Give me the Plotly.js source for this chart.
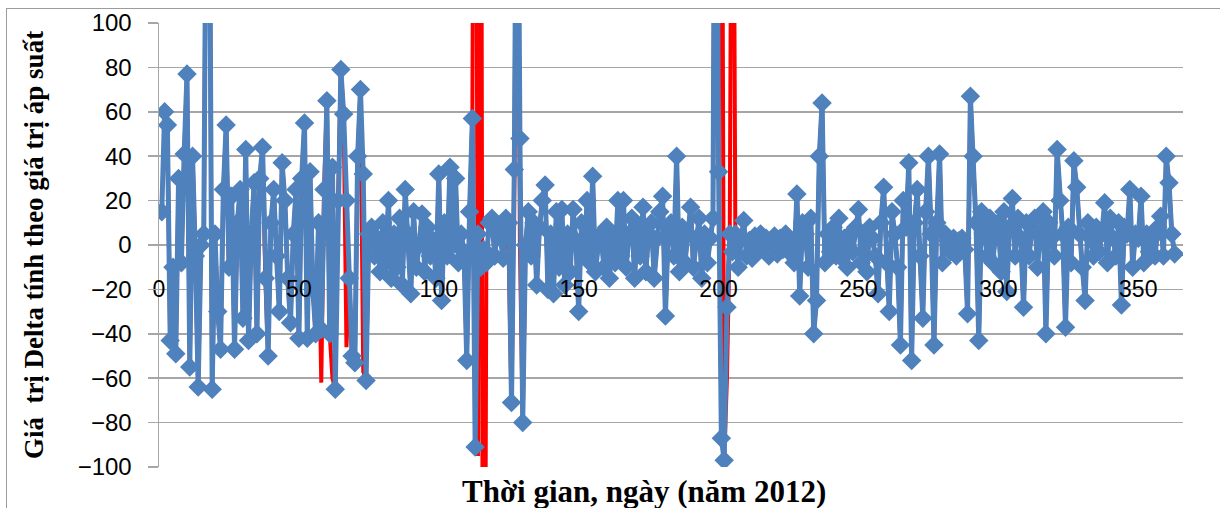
<!DOCTYPE html>
<html>
<head>
<meta charset="utf-8">
<script src="https://cdn.plot.ly/plotly-3.0.1.min.js"></script>
<style>
  html, body { margin: 0; padding: 0; background: #ffffff; }
  #wrap { position: relative; width: 1220px; height: 508px; overflow: hidden; }
  #frame { position: absolute; left: 6px; top: 8px; width: 1400px; height: 700px;
           border-top: 1.5px solid #9c9c9c; border-left: 1.5px solid #9c9c9c; }
  #chart { position: absolute; left: 0; top: 0; width: 1220px; height: 508px; }
</style>
</head>
<body>
<div id="wrap">
  <div id="frame"></div>
  <div id="chart"></div>
</div>
<script>
// Daily Delta values (blue series), day 1 .. day 363
const deltaFiltered = [
  15, 60, 54, -43, -10, -49, 30, -8, 41, 77,
  -55, 40, -5, -64, 0, 5, 200, 180, -65, 5,
  -30, -47, 25, 54, -10, 22, -47, 10, 25, -33,
  43, -43, 5, 28, -40, 30, 44, -15, -50, 10,
  25, -5, -30, 37, 20, -15, -35, 5, 25, -42,
  30, 55, -42, 33, -20, -40, 10, -38, 25, 65,
  -40, 35, -65, 20, 79, 59, 20, -15, -50, -53,
  40, 70, 32, -61, 5, 8, -5, 3, -12, 10,
  -8, 20, -15, 5, -10, 12, -18, 25, 5, -22,
  15, -10, 0, 14, -12, 8, -5, 2, -15, 32,
  -25, 10, -5, 35, 0, 30, -8, 5, -3, -52,
  15, 57, -91, 5, -10, -2, -8, 10, 12, -5,
  8, 3, -6, 12, 10, -71, 34, 250, 48, -80,
  0, 15, -5, 10, -18, 8, 20, 27, -20, 5,
  -22, 15, -10, 16, -18, 5, -12, 16, 2, -30,
  10, -5, 20, -8, 31, -12, 0, 5, -10, 8,
  -15, 3, -8, 20, -5, 20, -10, 5, 12, -15,
  8, -5, 17, -12, 5, 10, -15, 3, 15, 22,
  -32, 5, 10, -5, 40, -12, 8, -8, 5, 17,
  -10, 3, 12, -15, 5, -8, 3, 12, 300, 33,
  -87, -97, -28, 5, -3, 5, -10, 3, 11, -5,
  2, -6, 4, -3, 5, -2, 3, -5, 2, 4,
  -4, 3, -2, 5, -3, 2, -8, 23, -23, 10,
  5, -10, 12, -40, -25, 40, 64, -8, 5, -3,
  8, -5, 12, -6, 3, -10, 5, -3, 8, 16,
  -8, 5, -12, 8, 3, -5, -22, 10, 26, -8,
  -30, 15, 5, -10, -45, 20, 8, 37, -52, 10,
  25, -5, -33, 15, 40, 5, -45, 10, 41, -8,
  5, 2, -3, 3, -5, 2, 3, -2, -31, 67,
  40, 10, -43, 15, 8, -5, 12, -8, 5, 10,
  -12, 15, -21, 8, 21, -5, 12, 3, -28, 10,
  -5, 8, 12, -10, 5, 15, -40, 10, 3, -5,
  43, 20, 5, -37, 8, -8, 38, 26, 5, -10,
  -25, 10, 3, -5, 8, -3, 5, 19, -8, 12,
  3, -5, 10, -27, 8, 5, 25, -10, 5, 3,
  22, -8, 5, -3, 3, -5, 8, 13, -5, 40,
  28, 5, -4
];

// Days where the red (raw) series differs from the blue one
const rawOverrideDays   = [1,  58,  62,  67,  73,  113, 114, 115, 116, 125, 129, 201, 203, 205];
const rawOverrideValues = [58, -62, -60, -46, -57, 400, -95, 350, -400, -5,  0,   300, -60, 300];

const xTickValues = [0, 50, 100, 150, 200, 250, 300, 350];
const xTickLabels = ['0', '50', '100', '150', '200', '250', '300', '350'];
const yTickValues = [-100, -80, -60, -40, -20, 0, 20, 40, 60, 80, 100];

const days = deltaFiltered.map((_, i) => i + 1);
const deltaRaw = deltaFiltered.slice();
rawOverrideDays.forEach((d, k) => { deltaRaw[d - 1] = rawOverrideValues[k]; });

const gridCol = '#a6a6a6';

const traces = [
  {
    x: days, y: deltaRaw, type: 'scatter', mode: 'lines',
    line: { color: '#ff0000', width: 4 },
    hoverinfo: 'skip', showlegend: false
  },
  {
    x: days, y: deltaFiltered, type: 'scatter', mode: 'lines+markers',
    line: { color: '#4f81bd', width: 5 },
    marker: { symbol: 'diamond', size: 15, color: '#4f81bd' },
    showlegend: false
  }
];

const layout = {
  width: 1220, height: 508,
  margin: { l: 159, r: 37, t: 23, b: 41 },
  paper_bgcolor: 'rgba(0,0,0,0)',
  plot_bgcolor: 'rgba(0,0,0,0)',
  showlegend: false,
  xaxis: {
    range: [0, 366],
    anchor: 'free', position: 0.436,
    showgrid: false, zeroline: false, showline: false,
    ticks: '', tickvals: xTickValues, ticktext: xTickLabels,
    tickfont: { family: 'Liberation Sans, Arial, sans-serif', size: 23, color: '#000000' },
    layer: 'above traces',
    title: { text: '' }
  },
  yaxis: {
    range: [-100, 100],
    tickvals: yTickValues,
    showgrid: true, gridcolor: gridCol, gridwidth: 1.5,
    zeroline: false,
    showline: true, linecolor: gridCol, linewidth: 1.5,
    ticks: 'outside', ticklen: 10, tickcolor: gridCol, tickwidth: 1.5,
    ticklabelstandoff: 11,
    tickfont: { family: 'Liberation Sans, Arial, sans-serif', size: 24, color: '#000000' },
    title: {
      text: 'Giá\u00a0 trị Delta tính theo giá trị áp suất',
      font: { family: 'Liberation Serif, Times New Roman, serif', size: 27, color: '#000000', weight: 'bold' },
      standoff: 26
    }
  },
  annotations: [
    {
      text: 'Thời gian, ngày (năm 2012)',
      xref: 'paper', yref: 'paper', x: 0.474, y: -0.056,
      xanchor: 'center', yanchor: 'middle', showarrow: false,
      font: { family: 'Liberation Serif, Times New Roman, serif', size: 31, color: '#000000', weight: 'bold' }
    }
  ]
};

Plotly.newPlot('chart', traces, layout, { staticPlot: true, displayModeBar: false });
</script>
</body>
</html>
